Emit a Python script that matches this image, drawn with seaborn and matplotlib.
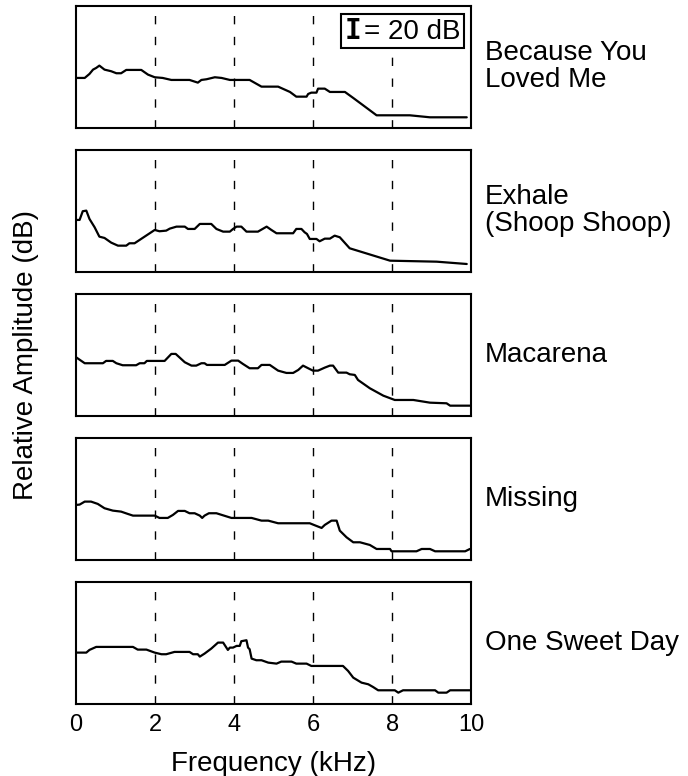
"""
Spectra of five pop songs, stacked panels, 0-10 kHz.
Values read off the reference picture (dB above each panel floor).
"""

import matplotlib
matplotlib.use("Agg")
import matplotlib.pyplot as plt
import seaborn as sns
import pandas as pd
from matplotlib.offsetbox import AnchoredOffsetbox, TextArea, HPacker

songs = ["Because You\nLoved Me", "Exhale\n(Shoop Shoop)", "Macarena",
         "Missing", "One Sweet Day"]

freq_because = [0.0, 0.22, 0.34, 0.43, 0.51, 0.59, 0.72, 0.89, 1.02, 1.14, 1.27, 1.65,
                1.82, 1.99, 2.19, 2.41, 2.87, 3.08, 3.17, 3.30, 3.51, 3.68, 3.89, 4.39,
                4.69, 5.11, 5.41, 5.57, 5.83, 5.87, 5.95, 6.08, 6.12, 6.29, 6.42, 6.80,
                7.01, 7.26, 7.60, 8.44, 8.95, 9.88]
amp_because = [80.0, 80.0, 86.4, 93.3, 96.0, 99.7, 93.3, 90.7, 87.5, 87.5, 92.8, 92.8,
               85.3, 81.1, 80.0, 76.8, 76.8, 72.5, 76.8, 77.9, 81.1, 80.0, 76.8, 76.8,
               66.1, 66.1, 57.6, 50.1, 50.1, 54.4, 56.5, 56.5, 62.9, 62.9, 57.6, 57.6,
               48.0, 36.3, 20.3, 20.3, 17.1, 17.1]

freq_exhale = [0.0, 0.09, 0.17, 0.26, 0.34, 0.47, 0.59, 0.72, 0.89, 1.06, 1.27, 1.35,
               1.48, 1.99, 2.11, 2.28, 2.37, 2.54, 2.75, 2.83, 3.00, 3.13, 3.42, 3.55,
               3.72, 3.89, 3.97, 4.06, 4.18, 4.31, 4.60, 4.82, 4.94, 5.07, 5.49, 5.57,
               5.70, 5.78, 5.84, 5.91, 6.08, 6.16, 6.29, 6.42, 6.54, 6.67, 6.92, 7.94,
               9.12, 9.88]
amp_exhale = [83.2, 83.2, 97.1, 98.1, 84.8, 71.5, 56.5, 54.4, 46.9, 42.1, 42.1, 45.9,
              45.9, 67.2, 65.1, 66.1, 69.3, 72.5, 72.5, 68.8, 68.8, 76.8, 76.8, 68.8,
              64.5, 64.5, 68.8, 72.5, 72.5, 64.5, 64.5, 72.5, 67.2, 61.9, 61.9, 68.8,
              68.8, 63.5, 60.8, 52.8, 52.8, 49.1, 53.3, 53.3, 58.1, 55.5, 37.9, 18.1,
              16.5, 12.8]

freq_macarena = [0.0, 0.22, 0.68, 0.76, 0.93, 1.02, 1.18, 1.52, 1.61, 1.73, 1.79, 2.24,
                 2.41, 2.52, 2.75, 2.92, 3.04, 3.17, 3.25, 3.31, 3.76, 3.93, 4.10, 4.22,
                 4.39, 4.60, 4.69, 4.90, 5.11, 5.32, 5.49, 5.62, 5.74, 5.87, 5.99, 6.12,
                 6.29, 6.42, 6.50, 6.63, 6.84, 6.92, 7.05, 7.13, 7.43, 7.77, 8.06, 8.53,
                 8.95, 9.37, 9.46, 9.96]
amp_macarena = [93.9, 84.3, 84.3, 88.0, 88.0, 84.3, 81.1, 81.1, 84.3, 84.3, 88.0, 88.0,
                99.2, 99.2, 85.9, 80.5, 80.5, 84.3, 84.3, 81.6, 81.6, 88.5, 88.5, 83.2,
                76.3, 76.3, 81.6, 81.6, 72.5, 68.8, 68.8, 73.6, 80.5, 76.3, 72.5, 72.5,
                77.3, 80.5, 80.5, 69.3, 69.3, 66.7, 65.6, 57.6, 44.3, 32.5, 25.6, 25.6,
                21.3, 20.3, 16.5, 16.5]

freq_missing = [0.0, 0.09, 0.22, 0.38, 0.55, 0.72, 0.93, 1.14, 1.31, 1.44, 1.99, 2.11,
                2.32, 2.45, 2.58, 2.75, 2.87, 3.00, 3.13, 3.19, 3.25, 3.36, 3.55, 3.93,
                4.44, 4.69, 4.86, 5.11, 5.91, 6.08, 6.21, 6.29, 6.46, 6.59, 6.67, 6.84,
                7.01, 7.18, 7.43, 7.60, 7.94, 7.98, 8.61, 8.74, 8.95, 9.08, 9.84, 9.96]
amp_missing = [88.0, 88.5, 93.3, 93.3, 89.6, 82.7, 78.9, 77.3, 73.6, 70.9, 70.9, 67.2,
               67.2, 72.0, 78.4, 78.4, 74.7, 74.7, 70.9, 67.2, 70.9, 74.7, 74.7, 67.2,
               67.2, 62.9, 62.9, 58.7, 58.7, 54.4, 51.2, 56.0, 62.9, 62.9, 46.9, 36.3,
               28.3, 28.3, 24.0, 17.6, 17.6, 13.9, 13.9, 17.6, 17.6, 13.9, 13.9, 17.6]

freq_sweet = [0.0, 0.26, 0.34, 0.51, 1.44, 1.56, 1.78, 1.99, 2.16, 2.28, 2.49, 2.87,
              2.96, 3.08, 3.13, 3.25, 3.42, 3.59, 3.72, 3.84, 3.89, 3.97, 4.06, 4.14,
              4.18, 4.31, 4.35, 4.39, 4.44, 4.56, 4.69, 4.86, 5.07, 5.19, 5.45, 5.57,
              5.83, 5.95, 6.75, 6.88, 7.01, 7.22, 7.39, 7.51, 7.64, 8.06, 8.15, 8.27,
              9.08, 9.16, 9.37, 9.46, 9.96]
amp_sweet = [82.1, 82.1, 86.4, 91.2, 91.2, 86.9, 86.9, 82.1, 79.5, 79.5, 83.2, 83.2,
             79.5, 79.5, 75.7, 80.5, 88.5, 98.1, 98.1, 86.4, 90.1, 90.1, 92.8, 92.8,
             100.3, 101.9, 90.1, 87.5, 72.5, 69.9, 69.9, 66.1, 64.5, 67.7, 67.7, 64.5,
             64.5, 60.8, 60.8, 52.8, 42.1, 34.1, 31.5, 27.2, 21.9, 21.9, 18.1, 21.9,
             21.9, 18.1, 18.1, 21.9, 21.9]

freqs = [freq_because, freq_exhale, freq_macarena, freq_missing, freq_sweet]
amps = [amp_because, amp_exhale, amp_macarena, amp_missing, amp_sweet]

grid_khz = [2, 4, 6, 8]
xticks = [0, 2, 4, 6, 8, 10]

sns.set_style("white")
plt.rcParams["font.family"] = ["Liberation Sans", "DejaVu Sans"]
plt.rcParams["text.color"] = "black"
plt.rcParams["axes.labelcolor"] = "black"
plt.rcParams["xtick.color"] = "black"

fig = plt.figure(figsize=(6.88, 7.76), dpi=100)
axes = fig.subplots(5, 1, sharex=True, gridspec_kw=dict(hspace=0.18))
fig.subplots_adjust(left=0.1105, right=0.6853, top=0.9923, bottom=0.0928)

for ax, song, f, a in zip(axes, songs, freqs, amps):
    df = pd.DataFrame({"freq": f, "amp": a})
    for g in grid_khz:
        ax.axvline(g, color="black", lw=1.0, ls=(0, (6, 9)), zorder=1)
    sns.lineplot(data=df, x="freq", y="amp", ax=ax, color="black", lw=1.6,
                 sort=False, zorder=3)
    ax.set_xlim(0, 10)
    ax.set_ylim(0, 195)
    ax.set_yticks([])
    ax.set_xlabel("")
    ax.set_ylabel("")
    for sp in ax.spines.values():
        sp.set_visible(True)
        sp.set_color("black")
        sp.set_linewidth(1.5)
    ax.tick_params(axis="x", length=0, labelsize=17, pad=7)
    ax.text(1.033, 0.5, song, transform=ax.transAxes, ha="left", va="center",
            fontsize=20, linespacing=1.05)

axes[-1].set_xticks(xticks)
axes[-1].set_xticklabels([str(t) for t in xticks])
axes[-1].set_xlabel("Frequency (kHz)", fontsize=20, labelpad=11)

# scale bar box in the top panel
bar = TextArea("I", textprops=dict(family="DejaVu Sans Mono", weight="bold", size=20))
lab = TextArea("= 20 dB", textprops=dict(size=20))
pack = HPacker(children=[bar, lab], align="baseline", pad=0, sep=2)
box = AnchoredOffsetbox(loc="upper right", child=pack, pad=0.12, borderpad=0.3,
                        frameon=True, prop=dict(size=19))
box.patch.set_boxstyle("square", pad=0)
box.patch.set_edgecolor("black")
box.patch.set_linewidth(1.5)
axes[0].add_artist(box)

fig.text(0.038, 0.5425, "Relative Amplitude (dB)", rotation=90, ha="center",
         va="center", fontsize=20)

fig.savefig("out.png", dpi=100)
